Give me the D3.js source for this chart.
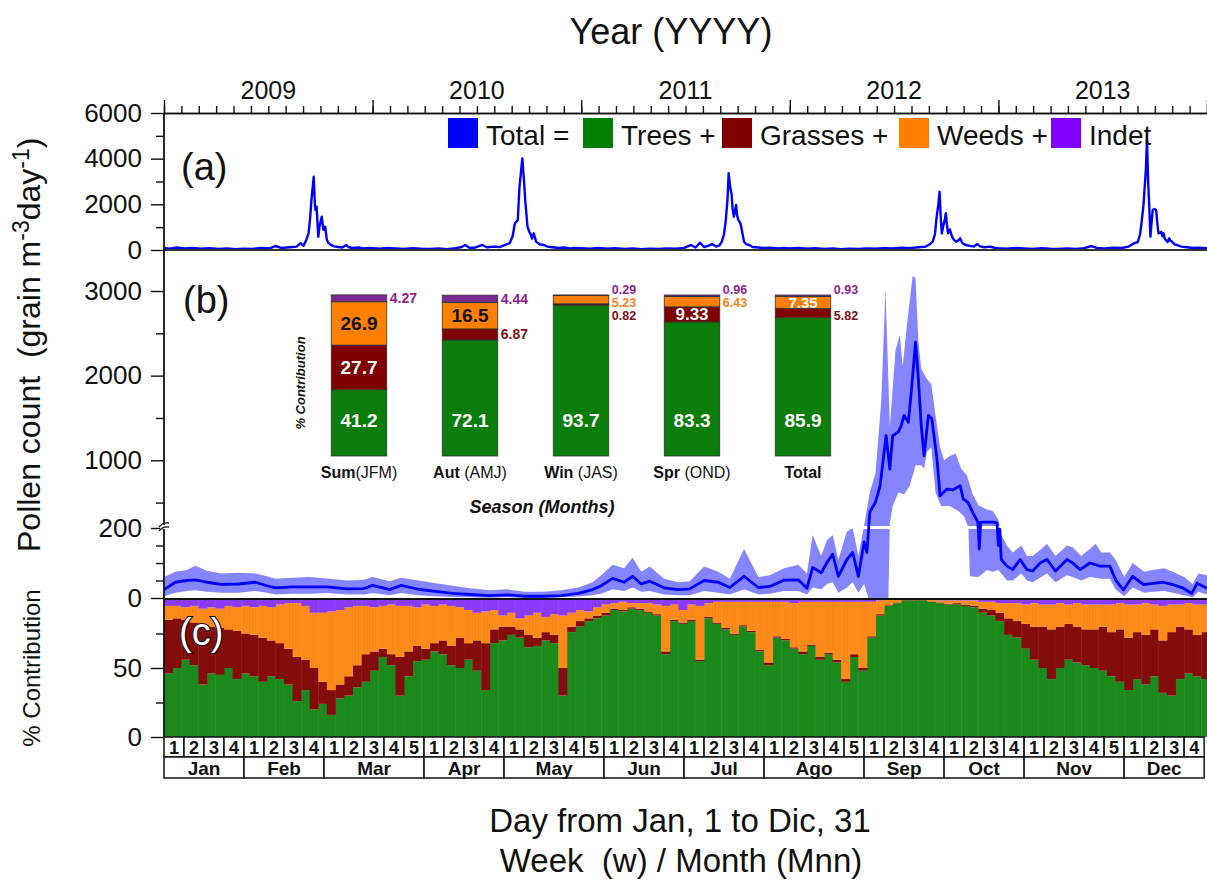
<!DOCTYPE html>
<html><head><meta charset="utf-8">
<script src="https://cdn.jsdelivr.net/npm/d3@7"></script>
<style>
body{margin:0;background:#fff}
svg{display:block}
text{font-family:"Liberation Sans",Arial,Helvetica,sans-serif;white-space:pre}
</style>
</head><body>
<svg id="chart" width="1207" height="880"></svg>
<script>
// ---------------- DATA ----------------
const years = [2009, 2010, 2011, 2012, 2013];
// Panel (a): daily total pollen, [day of year, grains m-3 day-1]
const total2009 = [[0,90],[10,60],[22,110],[35,70],[50,90],[65,60],[80,80],[95,50],[110,70],[125,40],[140,60],[155,50],[170,90],[185,70],[195,175],[205,90],[220,120],[232,150],[239,300],[244,180],[249,440],[253,730],[256,1500],[258,2190],[262,3210],[264,2000],[265,1750],[267,1900],[270,580],[272,1020],[276,1460],[279,880],[282,1020],[285,440],[288,300],[292,220],[298,160],[305,130],[312,110],[316,175],[319,220],[323,120],[330,90],[340,110],[350,70],[358,90],[365,80]];
const total2010 = [[0,80],[12,60],[25,90],[40,70],[55,50],[70,80],[85,60],[100,50],[115,70],[130,40],[145,80],[155,120],[162,220],[170,90],[180,110],[192,220],[200,120],[212,150],[222,130],[232,220],[240,300],[245,600],[249,1170],[254,1310],[257,2770],[262,4010],[265,3000],[267,2190],[271,1020],[274,800],[276,730],[279,500],[282,730],[286,365],[292,250],[299,220],[306,150],[315,120],[325,90],[335,110],[345,70],[355,90],[365,80]];
const total2011 = [[0,80],[15,60],[30,90],[45,60],[60,80],[75,50],[90,70],[105,40],[120,60],[135,50],[150,70],[165,60],[180,90],[192,220],[200,110],[208,320],[215,130],[222,180],[229,260],[236,150],[242,200],[246,365],[250,700],[253,1310],[256,2200],[258,3360],[261,2700],[263,2480],[265,1800],[267,1460],[269,1700],[271,1970],[273,1500],[275,1310],[278,1200],[280,1020],[283,600],[285,365],[289,250],[294,220],[300,130],[310,110],[320,90],[330,100],[345,70],[355,90],[365,70]];
const total2012 = [[0,70],[15,90],[30,60],[45,80],[60,50],[75,70],[90,40],[105,60],[120,50],[135,70],[150,60],[165,80],[180,70],[195,100],[210,80],[225,120],[238,150],[245,250],[250,365],[254,700],[257,1460],[260,2000],[262,2550],[264,1500],[266,730],[269,1100],[271,1300],[273,1610],[275,1100],[277,730],[280,900],[284,580],[287,450],[291,365],[295,420],[298,510],[302,300],[308,220],[315,180],[322,150],[328,260],[333,160],[340,120],[350,150],[358,100],[365,80]];
const total2013 = [[0,80],[15,60],[30,90],[45,70],[60,50],[75,80],[90,60],[105,50],[120,70],[135,50],[150,80],[163,175],[172,90],[185,70],[200,100],[215,90],[228,150],[237,290],[244,350],[248,700],[251,1310],[254,2000],[256,2770],[258,3500],[260,4820],[262,3000],[264,1900],[266,580],[268,1200],[270,1750],[273,1800],[276,1750],[278,1200],[280,730],[283,750],[285,800],[287,600],[289,730],[291,500],[293,440],[296,350],[299,510],[301,400],[304,365],[308,250],[312,220],[320,150],[330,120],[340,90],[350,100],[365,80]];

// Panel (b): 5-year daily mean and its band, [day of year, value]
const seasonalMean = [[0,24],[4,45],[8,50],[11,52],[15,45],[20,39],[26,40],[32,45],[36,35],[39,29],[45,32],[51,32],[57,32],[64,26],[70,27],[73,36],[79,24],[83,36],[89,25],[95,19],[101,13],[107,10],[114,7],[120,9],[126,5],[133,5],[139,7],[145,13],[150,24],[153,35],[157,56],[161,45],[164,62],[167,40],[170,48],[175,29],[180,24],[184,26],[189,50],[194,45],[198,30],[203,62],[208,30],[212,33],[217,51],[222,52],[225,28],[227,87],[230,72],[232,101],[234,125],[236,62],[239,110],[241,130],[243,62],[245,160],[246,130],[247,389],[249,507],[250.6,700],[252.7,1290],[254,897],[255,1290],[257,1335],[258,1409],[259,1530],[260.5,1450],[261.7,1880],[263,2395],[264,1960],[265,1409],[266,1055],[267.5,1530],[268.7,1490],[270.5,1015],[271.6,580],[274,660],[276,650],[278.6,700],[279.7,543],[281.4,500],[283,385],[284.8,270],[285.3,140],[285.8,270],[288,270],[290,270],[291.5,260],[292,150],[292.5,197],[293,110],[295,91],[297,81],[299.6,110],[302,81],[304,77],[306.6,100],[309,110],[312,77],[316,110],[318,100],[320.6,81],[324,100],[327.6,91],[331,91],[333,52],[335.7,23],[339,62],[342.8,38],[346,42],[349.7,45],[353,38],[356.7,28],[359.7,13],[361.5,42],[365,28]];
const seasonalHigh = [[0,60],[4,75],[8,80],[11,92],[15,78],[20,70],[26,72],[32,70],[36,62],[39,55],[45,58],[51,60],[57,56],[64,50],[70,52],[73,60],[79,48],[83,58],[89,50],[95,42],[101,35],[107,28],[114,22],[120,25],[126,18],[133,18],[139,22],[145,30],[150,45],[153,65],[157,95],[161,85],[164,115],[167,75],[170,90],[175,55],[180,45],[184,48],[189,90],[194,75],[198,55],[203,140],[208,60],[212,65],[217,85],[222,95],[225,70],[227,180],[230,120],[232,165],[234,180],[236,110],[239,190],[241,200],[243,120],[245,230],[247,620],[249,850],[251,1700],[252.5,3030],[254,1400],[256,2300],[257.5,2480],[258.5,2100],[260,2600],[262,3180],[263,3150],[264,2400],[265,2080],[267,1960],[268.5,1900],[270,1530],[271.5,1170],[273,1000],[275,1050],[277,1080],[279,900],[281,820],[283,600],[285,470],[288,420],[290,400],[292,300],[293,180],[295,150],[297,130],[300,150],[302,120],[304,120],[307,140],[309,155],[312,120],[316,150],[318,145],[321,120],[324,140],[326,155],[328,130],[331,130],[333,110],[336,60],[339,100],[343,75],[346,80],[350,85],[353,75],[357,60],[360,40],[362,70],[365,65]];
const seasonalLow = [[0,5],[4,15],[8,20],[11,22],[15,18],[20,15],[26,15],[32,20],[36,15],[39,10],[45,12],[51,12],[57,14],[64,10],[70,10],[73,14],[79,8],[83,14],[89,8],[95,5],[101,3],[107,2],[114,1],[120,2],[126,1],[133,1],[139,2],[145,4],[150,8],[153,12],[157,25],[161,20],[164,30],[167,18],[170,20],[175,10],[180,8],[184,8],[189,20],[194,15],[198,10],[203,25],[208,10],[212,12],[217,20],[222,20],[225,10],[227,30],[230,25],[232,40],[234,45],[236,15],[239,30],[241,45],[243,15],[245,40],[246.5,0],[253.5,0],[254,260],[255,460],[257,620],[259,600],[261,700],[263,940],[265,940],[266,900],[267,1100],[268.5,1150],[270,620],[272,460],[275,460],[278,400],[280,340],[281.5,200],[282,62],[285,60],[288,80],[290,75],[292,80],[295,50],[297,50],[300,70],[302,50],[304,45],[307,60],[309,70],[312,45],[316,65],[318,60],[321,50],[324,60],[328,55],[331,55],[333,25],[336,5],[339,30],[343,15],[346,18],[350,20],[353,15],[357,8],[360,2],[362,18],[365,10]];

// Panel (c): % contribution, one value every 3 days (day 0,3,...,363)
const pctStep = 3;
const treesPct = [46,50,56,52,38,46,45,50,42,46, 44,40,44,42,38,26,34,20,24,16, 28,30,36,40,48,58,52,30,44,55, 56,62,60,52,50,56,48,34,68,70, 74,72,65,66,70,68,30,76,80,84, 86,88,92,91,93,92,90,88,60,84, 82,84,55,86,82,78,74,80,76,62, 52,72,70,64,60,66,56,60,54,40, 58,48,72,88,95,97,99,99,99,98, 97,96,96,95,94,90,88,84,74,72, 64,56,50,42,50,56,54,52,50,48, 44,40,34,42,38,44,32,30,42,46, 44,42];
const grassesPct = [39,36,29,31,44,34,34,28,35,29, 30,32,26,26,26,32,22,30,16,18, 10,14,16,20,14,6,8,28,18,11, 8,6,10,14,22,12,22,34,10,10, 6,6,9,6,6,6,20,4,4,2, 2,2,1,1,1,1,1,1,2,1, 1,1,1,1,1,1,1,1,1,1, 2,1,1,1,2,1,2,1,2,2, 2,2,1,1,0.5,0.5,0.3,0.3,0.3,0.3, 0.5,0.5,1,1,1,3,4,6,12,12, 18,24,30,36,30,26,26,26,28,32, 32,38,38,34,36,34,38,46,38,32, 30,34];
const weedsPct = [10,9,9,12,11,14,14,17,17,20, 20,23,24,28,33,39,39,40,50,57, 54,50,43,35,32,31,36,37,33,28, 32,27,26,29,22,24,20,23,14,8, 10,8,14,18,11,15,38,10,8,5, 6,6,4,6,3,4,6,7,33,11, 9,11,39,10,15,19,23,17,21,35, 44,25,27,32,36,31,40,37,42,56, 38,48,25,10,4,2,0.4,0.4,0.4,1.2, 1.5,2.5,2,3,4,5,6,7,11,13, 14,17,16,18,17,14,17,18,18,16, 20,19,24,20,23,18,25,20,16,19, 22,20];

// Inset: seasonal % contribution
const seasons = ["Sum", "Aut", "Win", "Spr", "Total"];
const seasonMonths = ["(JFM)", " (AMJ)", " (JAS)", " (OND)", ""];
const insetTrees = [41.2, 72.1, 93.7, 83.3, 85.9];
const insetGrasses = [27.7, 6.87, 0.82, 9.33, 5.82];
const insetWeeds = [26.9, 16.5, 5.23, 6.43, 7.35];
const insetIndet = [4.27, 4.44, 0.29, 0.96, 0.93];

// Calendar axis
const monthNames = ["Jan","Feb","Mar","Apr","May","Jun","Jul","Ago","Sep","Oct","Nov","Dec"];
const monthWeeks = [4,4,5,4,5,4,4,5,4,4,5,4];
const legendItems = ["Total =", "Trees +", "Grasses +", "Weeds +", "Indet"];

// ---------------- DRAWING ----------------
const svg = d3.select("#chart");
const FONT = '"Liberation Sans",Arial,Helvetica,sans-serif';
const L = 164, R = 1207;
const xDay = d3.scaleLinear().domain([0, 365]).range([L, R]);
const xYear = d3.scaleLinear().domain([2009, 2014]).range([L, R]);
const yA = d3.scaleLinear().domain([0, 6000]).range([250, 113]);
const yB = d3.scaleLinear().domain([0, 200, 3000]).range([598, 528, 291]);
const yC = d3.scaleLinear().domain([0, 100]).range([737, 599]);

const defs = svg.append("defs");
defs.append("clipPath").attr("id","clipA").append("rect").attr("x",L).attr("y",100).attr("width",R-L).attr("height",150);
defs.append("clipPath").attr("id","clipB").append("rect").attr("x",L).attr("y",251).attr("width",R-L).attr("height",347);

// ----- panel (c) stacked bars -----
const cRows = treesPct.map((t,i)=>({day:i*pctStep, trees:t, grasses:grassesPct[i], weeds:weedsPct[i],
  indet: Math.max(0, 100 - t - grassesPct[i] - weedsPct[i])}));
const stackKeys = ["trees","grasses","weeds","indet"];
const cColors = {trees:"#1b8b1b", grasses:"#850c0c", weeds:"#ff8c1a", indet:"#8c3cff"};
const stacked = d3.stack().keys(stackKeys)(cRows);
const gC = svg.append("g");
stacked.forEach(layer=>{
  gC.selectAll(null).data(layer).enter().append("rect")
    .attr("x", d=>xDay(d.data.day))
    .attr("width", d=>Math.min(xDay(d.data.day+pctStep), R) - xDay(d.data.day) + 0.4)
    .attr("y", d=>yC(d[1]))
    .attr("height", d=>Math.max(0, yC(d[0]) - yC(d[1])))
    .attr("fill", cColors[layer.key]);
});
// thin day separators, as in the daily bars of the original
gC.selectAll(".sep").data(d3.range(0, 365, 1)).enter().append("line")
  .attr("x1", d=>xDay(d)).attr("x2", d=>xDay(d)).attr("y1", 600).attr("y2", 737)
  .attr("stroke", "#000").attr("stroke-opacity", 0.06).attr("stroke-width", 0.6);

// ----- panel (b) band + mean -----
const gB = svg.append("g").attr("clip-path","url(#clipB)");
const ptsHigh = seasonalHigh.map(([d,v])=>[xDay(d), yB(v)]);
const ptsLow = seasonalLow.map(([d,v])=>[xDay(d), yB(v)]).reverse();
gB.append("path").attr("d", d3.line()(ptsHigh.concat(ptsLow)) + "Z")
  .attr("fill", "#8585ff").attr("stroke","none");
// white gap of the axis break
gB.append("rect").attr("x", L).attr("y", yB(200)-2).attr("width", R-L).attr("height", 3).attr("fill","#fff");
gB.append("path").datum(seasonalMean)
  .attr("d", d3.line().x(d=>xDay(d[0])).y(d=>yB(d[1])))
  .attr("fill","none").attr("stroke","#0000ff").attr("stroke-width",2.8).attr("stroke-linejoin","round");

// ----- panel (a) line -----
const yearSeries = [total2009, total2010, total2011, total2012, total2013];
const aPts = [];
yearSeries.forEach((s,k)=>s.forEach(([d,v])=>aPts.push([years[k] + d/365, v])));
svg.append("g").attr("clip-path","url(#clipA)").append("path").datum(aPts)
  .attr("d", d3.line().x(d=>xYear(d[0])).y(d=>yA(d[1])))
  .attr("fill","none").attr("stroke","#0000ff").attr("stroke-width",2.4).attr("stroke-linejoin","round");

// ----- frame lines -----
svg.append("line").attr("x1",L).attr("x2",R).attr("y1",250).attr("y2",250).attr("stroke","#333").attr("stroke-width",2);
svg.append("line").attr("x1",L).attr("x2",R).attr("y1",599).attr("y2",599).attr("stroke","#111").attr("stroke-width",2.2);

// ----- top year axis -----
const gTop = svg.append("g").attr("transform","translate(0,113)");
const styleAxis = g => { g.selectAll("path").attr("stroke","#111").attr("stroke-width",1.6); g.selectAll("line").attr("stroke","#111").attr("stroke-width",1.4); };
gTop.call(d3.axisTop(xYear).tickValues(d3.range(2009, 2014.001, 1/12)).tickSize(7).tickSizeOuter(0).tickFormat("")).call(styleAxis);
gTop.append("g").call(d3.axisTop(xYear).tickValues(d3.range(2009, 2015)).tickSize(13).tickSizeOuter(0).tickFormat("")).call(styleAxis);
gTop.selectAll(".yl").data(years).enter().append("text")
  .attr("x", d=>xYear(d+0.5)).attr("y", -14).attr("text-anchor","middle")
  .attr("font-size", 25).attr("fill","#111").text(d=>d);

// ----- left axes -----
function leftAxis(scale, major, minor, fmt){
  const g = svg.append("g").attr("transform",`translate(${L},0)`);
  g.call(d3.axisLeft(scale).tickValues(minor).tickSize(8).tickFormat("").tickSizeOuter(0)).call(styleAxis);
  g.select("path").remove();
  const g2 = svg.append("g").attr("transform",`translate(${L},0)`);
  g2.call(d3.axisLeft(scale).tickValues(major).tickSize(13).tickPadding(9).tickFormat(fmt).tickSizeOuter(0)).call(styleAxis);
  g2.select("path").remove();
  g2.selectAll("text").attr("font-size",26).attr("fill","#111").attr("font-family",FONT);
}
leftAxis(yA, [0,2000,4000,6000], [1000,3000,5000], d3.format("d"));
leftAxis(yB, [0,200,1000,2000,3000], [50,100,150,500,1500,2500], d3.format("d"));
leftAxis(yC, [0,50], [25,75], d3.format("d"));
svg.append("line").attr("x1",L).attr("x2",L).attr("y1",113).attr("y2",737).attr("stroke","#111").attr("stroke-width",1.8);
// axis break mark
svg.append("rect").attr("x",L-4).attr("y",yB(200)-3).attr("width",8).attr("height",4).attr("fill","#fff");
svg.append("path").attr("d",`M${L-5},${yB(200)-1} q4,-5 10,-4 M${L-5},${yB(200)+3} q4,-5 10,-4`).attr("fill","none").attr("stroke","#111").attr("stroke-width",1.3);

// ----- calendar axis -----
const gCal = svg.append("g");
const weekNums = [];
monthWeeks.forEach(n=>{ for(let i=1;i<=n;i++) weekNums.push(i); });
gCal.selectAll(".wk").data(weekNums).enter().append("rect")
  .attr("x",(d,i)=>xDay(i*7)).attr("y",737).attr("width",xDay(7)-xDay(0)).attr("height",20)
  .attr("fill","#fff").attr("stroke","#111").attr("stroke-width",1.5);
gCal.selectAll(".wt").data(weekNums).enter().append("text")
  .attr("x",(d,i)=>xDay(i*7+3.5)).attr("y",754).attr("text-anchor","middle")
  .attr("font-size",18).attr("font-weight","bold").attr("fill","#111").text(d=>d);
const mStart = [0]; monthWeeks.forEach((n,i)=>mStart.push(mStart[i]+n));
gCal.selectAll(".mb").data(monthNames).enter().append("rect")
  .attr("x",(d,i)=>xDay(mStart[i]*7)).attr("y",757).attr("width",(d,i)=>xDay(monthWeeks[i]*7)-xDay(0)).attr("height",21)
  .attr("fill","#fff").attr("stroke","#111").attr("stroke-width",1.5);
gCal.selectAll(".mt").data(monthNames).enter().append("text")
  .attr("x",(d,i)=>xDay((mStart[i]+monthWeeks[i]/2)*7)).attr("y",775).attr("text-anchor","middle")
  .attr("font-size",19).attr("font-weight","bold").attr("fill","#111").text(d=>d);

// ----- panel labels -----
svg.append("text").attr("x",181).attr("y",180).attr("font-size",38).attr("fill","#111").text("(a)");
svg.append("text").attr("x",183).attr("y",313).attr("font-size",38).attr("fill","#111").text("(b)");
svg.append("text").attr("x",179).attr("y",645).attr("font-size",38).attr("fill","#fff")
  .attr("stroke","#111").attr("stroke-width",2.2).attr("paint-order","stroke").text("(c)");

// ----- legend -----
const legColors = ["#0000ff","#008000","#800000","#ff8000","#8000ff"];
const legBoxX = [448, 583, 722, 899, 1051];
const gLeg = svg.append("g");
legendItems.forEach((t,i)=>{
  gLeg.append("rect").attr("x",legBoxX[i]).attr("y",118).attr("width",30).attr("height",30).attr("fill",legColors[i]);
  gLeg.append("text").attr("x",legBoxX[i]+38).attr("y",145).attr("font-size",28).attr("fill","#111").text(t);
});

// ----- inset bar chart -----
const xIn = d3.scaleBand().domain(seasons).range([303.5, 858.5]).paddingInner(0.5).paddingOuter(0.25);
const yIn = d3.scaleLinear().domain([0,100]).range([456, 295]);
const inRows = seasons.map((s,i)=>({season:s, trees:insetTrees[i], grasses:insetGrasses[i], weeds:insetWeeds[i], indet:insetIndet[i]}));
const inColors = {trees:"#0b7d0b", grasses:"#7e0202", weeds:"#ff8000", indet:"#7a2a92"};
const inStack = d3.stack().keys(stackKeys)(inRows);
const gIn = svg.append("g");
inStack.forEach(layer=>{
  gIn.selectAll(null).data(layer).enter().append("rect")
    .attr("x", d=>xIn(d.data.season)).attr("width", xIn.bandwidth())
    .attr("y", d=>yIn(d[1])).attr("height", d=>yIn(d[0])-yIn(d[1]))
    .attr("fill", inColors[layer.key]).attr("stroke","#333").attr("stroke-width",0.8);
});
// inside labels: [key, text colour per season]
const inside = [["trees",["#fff","#fff","#fff","#fff","#fff"]],["grasses",["#fff",null,null,"#fff",null]],["weeds",["#111","#111",null,null,"#fff"]]];
inside.forEach(([key,cols])=>{
  const layer = inStack.find(l=>l.key===key);
  layer.forEach((d,i)=>{
    if(!cols[i]) return;
    const v = d[1]-d[0];
    const yy = key==="trees" ? yIn(22) : (yIn(d[0])+yIn(d[1]))/2;
    const fs = key==="trees" ? 19 : (v<8 ? 15 : (v<10 ? 17 : 19));
    gIn.append("text").attr("x", xIn(d.data.season)+xIn.bandwidth()/2).attr("y", yy+fs*0.36)
      .attr("text-anchor","middle").attr("font-size", fs).attr("font-weight","bold")
      .attr("fill", cols[i]).text(v >= 10 ? d3.format(".1f")(v) : d3.format(".2f")(v));
  });
});
// outside labels, placed next to each bar (offset from the bar top, or segment-centred)
const outCol = {indet:"#8e1f8e", weeds:"#ff7f1a", grasses:"#7e1010"};
const outside = [
  [0,"indet",insetIndet[0],"seg"],
  [1,"indet",insetIndet[1],"seg"],[1,"grasses",insetGrasses[1],"seg"],
  [2,"indet",insetIndet[2],-1],[2,"weeds",insetWeeds[2],12],[2,"grasses",insetGrasses[2],25],
  [3,"indet",insetIndet[3],-1],[3,"weeds",insetWeeds[3],12],
  [4,"indet",insetIndet[4],-1],[4,"grasses",insetGrasses[4],25]
];
outside.forEach(([i,key,v,pos])=>{
  const layer = inStack.find(l=>l.key===key);
  const d = layer[i];
  const yy = pos==="seg" ? (yIn(d[0])+yIn(d[1]))/2 + 5 : yIn(100) + pos;
  gIn.append("text").attr("x", xIn(seasons[i])+xIn.bandwidth()+3).attr("y", yy)
    .attr("font-size", pos==="seg" ? 14 : 12.5).attr("font-weight","bold").attr("fill",outCol[key]).text(d3.format(".2f")(v));
});
// category labels
seasons.forEach((s,i)=>{
  const t = gIn.append("text").attr("x", xIn(s)+xIn.bandwidth()/2).attr("y",478).attr("text-anchor","middle").attr("font-size",16).attr("fill","#111");
  t.append("tspan").attr("font-weight","bold").text(s);
  t.append("tspan").text(seasonMonths[i]);
});
gIn.append("text").attr("x",542).attr("y",513).attr("text-anchor","middle").attr("font-size",18)
  .attr("font-weight","bold").attr("font-style","italic").attr("fill","#111").text("Season (Months)");
gIn.append("text").attr("transform","translate(305,383) rotate(-90)").attr("text-anchor","middle").attr("font-size",13)
  .attr("font-weight","bold").attr("font-style","italic").attr("fill","#111").text("% Contribution");

// ----- titles -----
svg.append("text").attr("x",671).attr("y",44).attr("text-anchor","middle").attr("font-size",36).attr("fill","#111").text("Year (YYYY)");
svg.append("text").attr("x",680).attr("y",832).attr("text-anchor","middle").attr("font-size",33).attr("fill","#111").text("Day from Jan, 1 to Dic, 31");
svg.append("text").attr("x",681).attr("y",872).attr("text-anchor","middle").attr("font-size",33).attr("fill","#111").text("Week  (w) / Month (Mnn)");
const yt = svg.append("text").attr("transform","translate(40,552) rotate(-90)").attr("text-anchor","start").attr("font-size",32).attr("fill","#111");
yt.append("tspan").text("Pollen count  (grain m");
yt.append("tspan").attr("dy",-11).attr("font-size",23).text("-3");
yt.append("tspan").attr("dy",11).text("day");
yt.append("tspan").attr("dy",-11).attr("font-size",23).text("-1");
yt.append("tspan").attr("dy",11).text(")");
svg.append("text").attr("transform","translate(40,668) rotate(-90)").attr("text-anchor","middle").attr("font-size",24).attr("fill","#111").text("% Contribution");
</script>
</body></html>
